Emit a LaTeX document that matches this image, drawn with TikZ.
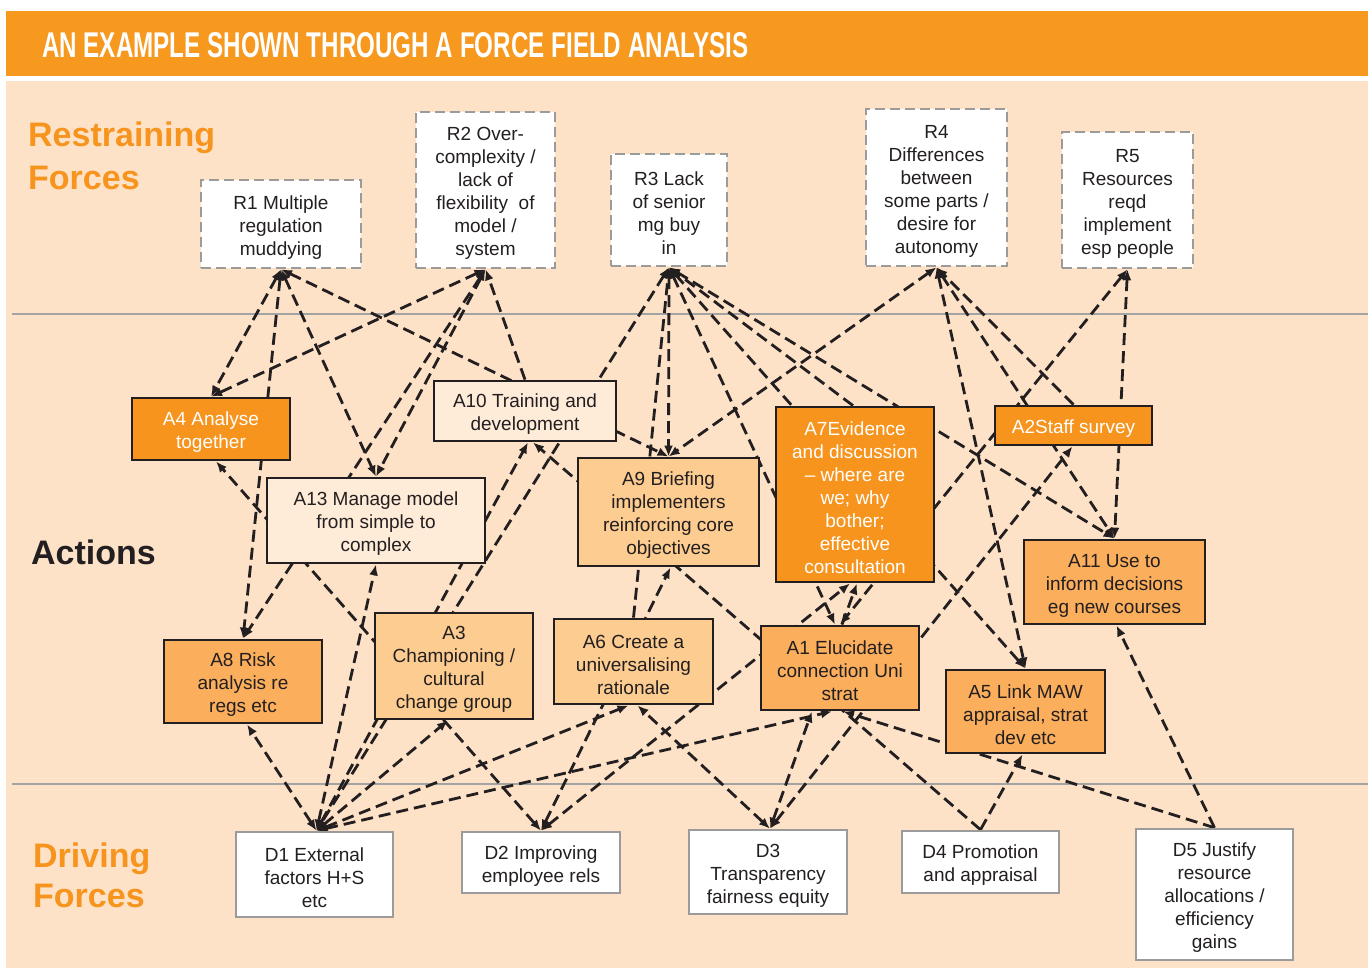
\documentclass[tikz,border=0pt]{standalone}
\usepackage{fontspec}
\setmainfont{Liberation Sans}
\usetikzlibrary{arrows.meta}

\definecolor{hdr}{HTML}{F7981F}
\definecolor{peach}{HTML}{FDE2C8}
\definecolor{orgA}{HTML}{F7941D}
\definecolor{orgB}{HTML}{FBAE5C}
\definecolor{orgC}{HTML}{FDCC90}
\definecolor{orgD}{HTML}{FEEBD8}
\definecolor{ink}{HTML}{231F20}
\definecolor{rulegray}{HTML}{A3A3A3}
\definecolor{framegray}{HTML}{9B9B9B}
\definecolor{titleorange}{HTML}{F7941D}

\newcommand\boxfont{\fontsize{19}{23}\selectfont}
\newcommand\bigtitlefont{\fontsize{34}{44}\selectfont\bfseries}
% taller first line so the text block sits a little lower in its box
\newcommand\fs{\rule{0pt}{20pt}}

\pgfdeclarelayer{back}
\pgfdeclarelayer{links}
\pgfsetlayers{back,links,main}

\begin{document}
\begin{tikzpicture}[x=1pt,y=-1pt,
  rbox/.style={draw=framegray, dash pattern=on 10pt off 5pt, line width=2.6pt,
    fill=white, inner sep=0pt, align=center, font=\boxfont, text=ink},
  dbox/.style={draw=framegray, line width=2.6pt, fill=white, inner sep=0pt,
    align=center, font=\boxfont, text=ink},
  abox/.style={draw=ink, line width=2.8pt, inner sep=0pt, align=center,
    font=\boxfont, text=ink},
  conn/.style={draw=ink, line width=2.8pt, dash pattern=on 12pt off 6pt},
  twoway/.style={conn, {Latex[length=11pt,width=9pt]}-{Latex[length=11pt,width=9pt]}},
  oneway/.style={conn, -{Latex[length=11pt,width=9pt]}},
  sect/.style={anchor=base west, inner sep=0pt, font=\bigtitlefont}
]
\useasboundingbox (0,0) rectangle (1368,969);

% background panels
\begin{pgfonlayer}{back}
  \fill[white] (0,0) rectangle (1368,969);
  \fill[hdr] (6,11) rectangle (1368,76);
  \fill[peach] (6,81) rectangle (1368,968);
  \draw[rulegray, line width=2pt] (12,314) -- (1368,314);
  \draw[rulegray, line width=2pt] (12,784) -- (1368,784);
\end{pgfonlayer}

% heading
\node[anchor=base west, inner sep=0pt, text=white] (head) at (42,57)
  {\resizebox{706pt}{25pt}{\bfseries AN EXAMPLE SHOWN THROUGH A FORCE FIELD ANALYSIS}};

% section titles
\node[sect, text=titleorange] (restr1) at (28,146) {Restraining};
\node[sect, text=titleorange] (restr2) at (28,189) {Forces};
\node[sect, text=ink] (acts) at (31,564) {Actions};
\node[sect, text=titleorange] (driv1) at (33,867) {Driving};
\node[sect, text=titleorange] (driv2) at (33,907) {Forces};

% restraining forces
\node[rbox, minimum width=160pt, minimum height=88pt] (R1) at (281,224)
  {\fs R1 Multiple\\regulation\\muddying};
\node[rbox, minimum width=139pt, minimum height=156pt] (R2) at (485.5,190)
  {\fs R2 Over-\\complexity /\\lack of\\flexibility~~of\\model /\\system};
\node[rbox, minimum width=116pt, minimum height=112pt] (R3) at (669,210)
  {\fs R3 Lack\\of senior\\mg buy\\in};
\node[rbox, minimum width=141pt, minimum height=157pt] (R4) at (936.5,187.5)
  {\fs R4\\Differences\\between\\some parts /\\desire for\\autonomy};
\node[rbox, minimum width=131pt, minimum height=136pt] (R5) at (1127.5,200)
  {\fs R5\\Resources\\reqd\\implement\\esp people};

% actions
\node[abox, fill=orgA, text=white, minimum width=158pt, minimum height=62pt] (A4) at (211,429)
  {\fs A4 Analyse\\together};
\node[abox, fill=orgD, minimum width=182pt, minimum height=60pt] (A10) at (525,411)
  {\fs A10 Training and\\development};
\node[abox, fill=orgD, minimum width=218pt, minimum height=85pt] (A13) at (376,520.5)
  {\fs A13 Manage model\\from simple to\\complex};
\node[abox, fill=orgC, minimum width=181pt, minimum height=108pt] (A9) at (668.5,512)
  {\fs A9 Briefing\\implementers\\reinforcing core\\objectives};
\node[abox, fill=orgA, text=white, minimum width=158pt, minimum height=175pt] (A7) at (855,494.5)
  {\fs A7Evidence\\and discussion\\– where are\\we; why\\bother;\\effective\\consultation};
\node[abox, fill=orgA, text=white, minimum width=157pt, minimum height=39pt] (A2) at (1073.5,425.5)
  {\fs A2Staff survey};
\node[abox, fill=orgB, minimum width=181pt, minimum height=84pt] (A11) at (1114.5,582)
  {\fs A11 Use to\\inform decisions\\eg new courses};
\node[abox, fill=orgB, minimum width=158pt, minimum height=83pt] (A8) at (243,681.5)
  {\fs A8 Risk\\analysis re\\regs etc};
\node[abox, fill=orgC, minimum width=158pt, minimum height=106pt] (A3) at (454,666)
  {\fs A3\\Championing /\\cultural\\change group};
\node[abox, fill=orgC, minimum width=159pt, minimum height=85pt] (A6) at (633.5,661.5)
  {\fs A6 Create a\\universalising\\rationale};
\node[abox, fill=orgB, minimum width=158pt, minimum height=84pt] (A1) at (840,668)
  {\fs A1 Elucidate\\connection Uni\\strat};
\node[abox, fill=orgB, minimum width=159pt, minimum height=83pt] (A5) at (1025.5,711.5)
  {\fs A5 Link MAW\\appraisal, strat\\dev etc};

% driving forces
\node[dbox, minimum width=157pt, minimum height=85pt] (D1) at (314.5,874.5)
  {\fs D1 External\\factors H+S\\etc};
\node[dbox, minimum width=158pt, minimum height=61pt] (D2) at (541,862.5)
  {\fs D2 Improving\\employee rels};
\node[dbox, minimum width=158pt, minimum height=84pt] (D3) at (768,872)
  {\fs D3\\Transparency\\fairness equity};
\node[dbox, minimum width=157pt, minimum height=62pt] (D4) at (980.5,862)
  {\fs D4 Promotion\\and appraisal};
\node[dbox, minimum width=157pt, minimum height=131pt] (D5) at (1214.5,894.5)
  {\fs D5 Justify\\resource\\allocations /\\efficiency\\gains};

% connectors, drawn beneath the boxes
\begin{pgfonlayer}{links}
  % actions against restraining forces
  \draw[twoway] (R1.south) -- (A4.north);
  \draw[twoway] (R2.south) -- (A4.north);
  \draw[twoway] (R1.south) -- (A8.north);
  \draw[twoway] (R2.south) -- (A8.north);
  \draw[twoway] (R1.south) -- (A13.north);
  \draw[twoway] (R2.south) -- (A13.north);
  \draw[twoway] (R1.south) -- (A9.north);
  \draw[oneway] (A10.north) -- (R2.south);
  \draw[twoway] (R3.south) -- ([xshift=2pt]D1.north);
  \draw[twoway] (R3.south) -- (A9.north);
  \draw[oneway] (A6.north) -- (R3.south);
  \draw[twoway] (R3.south) -- ([xshift=-5pt]A1.north);
  \draw[twoway] (R3.south) -- (A5.north);
  \draw[oneway] ([xshift=-2pt]A7.north) -- (R3.south);
  \draw[twoway] (R3.south) -- (A11.north);
  \draw[twoway] (R4.south) -- (A9.north);
  \draw[twoway] (R4.south) -- (A5.north);
  \draw[twoway] (R4.south) -- (A11.north);
  \draw[oneway] (A2.north) -- (R4.south);
  \draw[twoway] (R5.south) -- (A11.north);
  \draw[twoway] (R5.south) -- (A1.north);
  % driving forces into actions
  \draw[twoway] ([xshift=2pt]D1.north) -- ([xshift=4pt]A8.south);
  \draw[twoway] ([xshift=2pt]D1.north) -- (A13.south);
  \draw[twoway] ([xshift=2pt]D1.north) -- ([xshift=3pt]A10.south);
  \draw[twoway] ([xshift=2pt]D1.north) -- ([xshift=-6pt]A3.south);
  \draw[twoway] ([xshift=2pt]D1.north) -- ([xshift=-5pt]A6.south);
  \draw[twoway] ([xshift=2pt]D1.north) -- ([xshift=-8pt]A1.south);
  \draw[twoway] (D2.north) -- ([xshift=5pt]A4.south);
  \draw[twoway] (D2.north) -- ([xshift=2pt]A9.south);
  \draw[twoway] (D2.north) -- ([xshift=-5pt]A7.south);
  \draw[twoway] ([xshift=2pt]D3.north) -- ([xshift=4pt]A6.south);
  \draw[twoway] ([xshift=2pt]D3.north) -- ([xshift=-28pt]A1.south);
  \draw[twoway] ([xshift=2pt]D3.north) -- ([xshift=-1pt]A2.south);
  \draw[oneway] (D4.north) -- ([xshift=8pt]A10.south);
  \draw[oneway] (D4.north) -- ([xshift=-3pt]A5.south);
  \draw[oneway] (D5.north) -- ([xshift=2pt]A11.south);
  \draw[oneway] (D5.north) -- ([xshift=3pt]A1.south);
  % between actions
  \draw[oneway] ([xshift=2pt]A1.north) -- ([xshift=2pt]A7.south);
\end{pgfonlayer}
\end{tikzpicture}
\end{document}
